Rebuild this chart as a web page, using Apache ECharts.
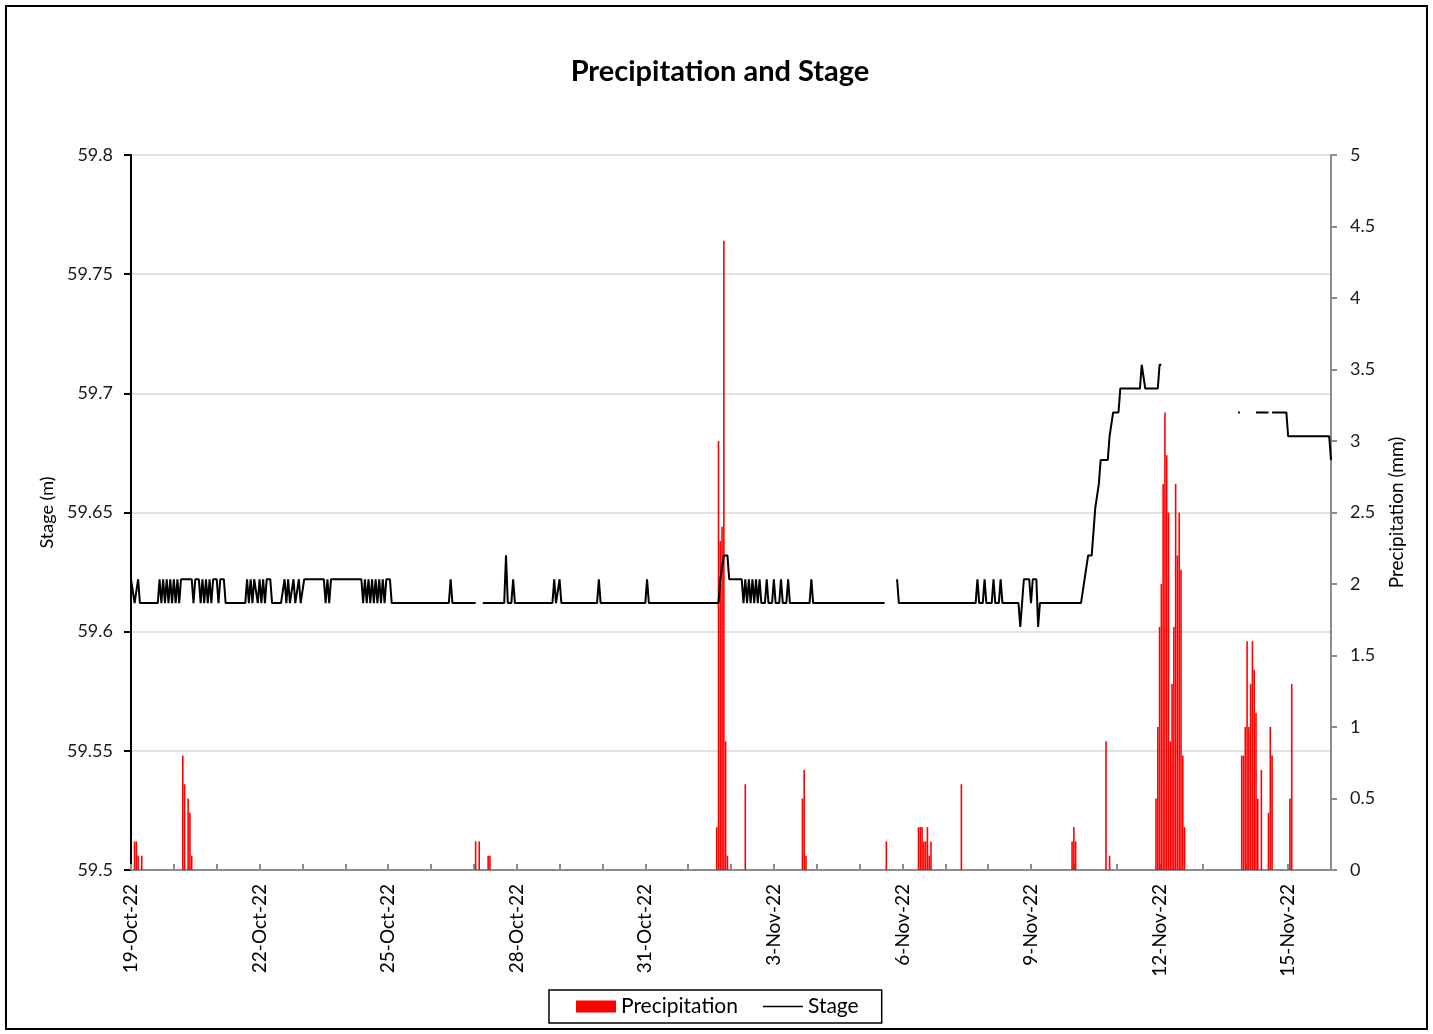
<!DOCTYPE html>
<html>
<head>
<meta charset="utf-8">
<script src="https://cdn.jsdelivr.net/npm/echarts@6/dist/echarts.min.js"></script>
<style>
html,body{margin:0;padding:0;background:#fff;}
#chart{width:1433px;height:1034px;}
</style>
</head>
<body>
<div id="chart"></div>
<script>
// x values are hours since 19-Oct-22 00:00
const xTickLabels = ['19-Oct-22','22-Oct-22','25-Oct-22','28-Oct-22','31-Oct-22','3-Nov-22','6-Nov-22','9-Nov-22','12-Nov-22','15-Nov-22'];

// Stage (m); null = gap in record
const stageHours = [
  0,1,2,3,4,5,15,16,17,18,19,20,21,22,23,24,25,26,27,28,34,35,36,38,39,40,41,42,43,44,45,46,48,49,50,52,53,
  64,65,66,67,68,69,70,71,72,73,74,75,76,78,79,84,86,87,88,89,91,92,94,95,97,108,109,110,111,112,
  129,130,131,132,133,134,135,136,137,138,139,140,141,142,143,145,146,
  178,179,180,193,194,197,209,210,211,213,214,215,236,237,238,239,240,241,261,262,263,288,289,290,
  329,330,331,332,334,335,342,343,344,345,346,347,348,349,350,351,352,353,355,356,357,359,360,361,363,364,365,367,368,369,380,381,382,
  422,423,429,430,473,474,475,477,478,479,482,483,484,486,487,488,
  497,498,500,503,504,505,507,508,509,532,533,534,535,536,538,539,540,542,543,547,548,549,550,553,554,565,566,567,568,575,576,577,578,
  620,621,622,630,637,638,639,647,648,671,672
];
const stageValues = [
  59.622,59.622,59.612,59.612,59.622,59.612,59.612,59.622,59.612,59.622,59.612,59.622,59.612,59.622,59.612,59.622,59.612,59.622,59.612,59.622,59.622,59.612,59.622,59.622,59.612,59.622,59.612,59.622,59.612,59.622,59.612,59.622,59.622,59.612,59.622,59.622,59.612,
  59.612,59.622,59.612,59.622,59.612,59.622,59.622,59.612,59.622,59.612,59.622,59.612,59.622,59.622,59.612,59.612,59.622,59.612,59.622,59.612,59.622,59.612,59.622,59.612,59.622,59.622,59.612,59.622,59.612,59.622,
  59.622,59.612,59.622,59.612,59.622,59.612,59.622,59.612,59.622,59.612,59.622,59.612,59.622,59.612,59.622,59.622,59.612,
  59.612,59.622,59.612,59.612,null,59.612,59.612,59.632,59.612,59.612,59.622,59.612,59.612,59.622,59.612,59.612,59.622,59.612,59.612,59.622,59.612,59.612,59.622,59.612,
  59.612,59.622,59.622,59.632,59.632,59.622,59.622,59.612,59.622,59.612,59.622,59.612,59.622,59.612,59.622,59.612,59.622,59.612,59.612,59.622,59.612,59.612,59.622,59.612,59.612,59.622,59.612,59.612,59.622,59.612,59.612,59.622,59.612,
  59.612,null,59.622,59.612,59.612,59.622,59.612,59.612,59.622,59.612,59.612,59.622,59.612,59.612,59.622,59.612,
  59.612,59.602,59.622,59.622,59.612,59.622,59.622,59.602,59.612,59.612,59.612,59.622,59.622,59.632,59.632,59.642,59.652,59.662,59.672,59.672,59.682,59.682,59.692,59.692,59.702,59.702,59.712,59.712,59.702,59.702,59.712,59.712,null,
  59.692,59.692,null,59.692,59.692,null,59.692,59.692,59.682,59.682,59.672
];

// Precipitation (mm)
const precipHours = [
  2,3,4,6, 29,30,32,33,34, 193,195,200,201,
  328,329,330,331,332,333,334, 344, 376,377,378, 423,
  441,442,443,444,445,446,447,448, 465, 527,528,529, 546,548,
  574,575,576,577,578,579,580,581,582,583,584,585,586,587,588,589,590,
  622,623,624,625,626,627,628,629,630,631,633,637,638,639,649,650
];
const precipValues = [
  0.2,0.2,0.1,0.1, 0.8,0.6,0.5,0.4,0.1, 0.2,0.2,0.1,0.1,
  0.3,3.0,2.3,2.4,4.4,0.9,0.1, 0.6, 0.5,0.7,0.1, 0.2,
  0.3,0.3,0.3,0.2,0.2,0.3,0.1,0.2, 0.6, 0.2,0.3,0.2, 0.9,0.1,
  0.5,1.0,1.7,2.0,2.7,3.2,2.9,2.5,0.9,1.3,1.7,2.7,2.2,2.5,2.1,0.8,0.3,
  0.8,0.8,1.0,1.6,1.0,1.3,1.6,1.4,1.1,0.5,0.7,0.4,1.0,0.8,0.5,1.3
];

const FONT = 'Lato';
const stageData = stageHours.map((h, i) => [h, stageValues[i] === null ? '-' : stageValues[i]]);
const precipData = precipHours.map((h, i) => [h, precipValues[i]]);

const chart = echarts.init(document.getElementById('chart'), null, {renderer: 'canvas'});
chart.setOption({
  animation: false,
  backgroundColor: '#fff',
  textStyle: {fontFamily: FONT},
  title: {
    text: 'Precipitation and Stage',
    left: 720, top: 57, textAlign: 'center', padding: 0,
    textStyle: {fontFamily: FONT, fontSize: 29, fontWeight: 'bold', color: '#000'}
  },
  graphic: [{
    type: 'rect', silent: true, z: 100,
    shape: {x: 6, y: 6, width: 1421, height: 1023},
    style: {fill: 'none', stroke: '#000', lineWidth: 2}
  }],
  legend: {
    left: 549, top: 990,
    borderColor: '#000', borderWidth: 1.5,
    padding: [6, 23, 6, 27],
    itemGap: 25, itemWidth: 40, itemHeight: 12,
    textStyle: {fontFamily: FONT, fontSize: 21, color: '#000'},
    data: [
      {name: 'Precipitation', icon: 'rect'},
      {name: 'Stage', icon: 'path://M0 0 H40 V1.6 H0 Z'}
    ]
  },
  grid: {left: 131, top: 155, width: 1200, height: 715, containLabel: false},
  xAxis: {
    type: 'value', min: 0, max: 672, interval: 24,
    axisLine: {show: true, lineStyle: {color: '#8c8c8c', width: 2}},
    axisTick: {show: true, inside: true, length: 6, lineStyle: {color: '#8c8c8c', width: 2}},
    splitLine: {show: false},
    axisLabel: {
      rotate: 90, margin: 14, fontFamily: FONT, fontSize: 19, color: '#000',
      formatter: v => (v % 72 === 0 && xTickLabels[v / 72]) ? xTickLabels[v / 72] : ''
    }
  },
  yAxis: [{
    type: 'value', min: 59.5, max: 59.8, interval: 0.05,
    name: 'Stage (m)', nameLocation: 'middle', nameRotate: 90, nameGap: 72,
    nameTextStyle: {fontFamily: FONT, fontSize: 18, color: '#000'},
    axisLine: {show: true, lineStyle: {color: '#000', width: 2}},
    axisTick: {show: true, inside: false, length: 7, lineStyle: {color: '#000', width: 2}},
    splitLine: {show: true, lineStyle: {color: '#d9d9d9', width: 1.5}},
    axisLabel: {margin: 18, fontFamily: FONT, fontSize: 18, color: '#1a1a1a',
      formatter: v => String(Math.round(v * 100) / 100)}
  }, {
    type: 'value', min: 0, max: 5, interval: 0.5, position: 'right',
    name: 'Precipitation (mm)', nameLocation: 'middle', nameRotate: 90, nameGap: 56,
    nameTextStyle: {fontFamily: FONT, fontSize: 19, color: '#000'},
    axisLine: {show: true, lineStyle: {color: '#8c8c8c', width: 2}},
    axisTick: {show: true, inside: false, length: 6, lineStyle: {color: '#8c8c8c', width: 2}},
    splitLine: {show: false},
    axisLabel: {margin: 19, fontFamily: FONT, fontSize: 18, color: '#1a1a1a',
      formatter: v => String(v)}
  }],
  series: [{
    name: 'Precipitation', type: 'bar', yAxisIndex: 1,
    data: precipData, barWidth: 1.6,
    itemStyle: {color: '#ff0000'}, z: 2
  }, {
    name: 'Stage', type: 'line', yAxisIndex: 0,
    data: stageData, symbol: 'none', connectNulls: false,
    lineStyle: {color: '#000', width: 2}, itemStyle: {color: '#000'}, z: 3
  }]
});
</script>
</body>
</html>
